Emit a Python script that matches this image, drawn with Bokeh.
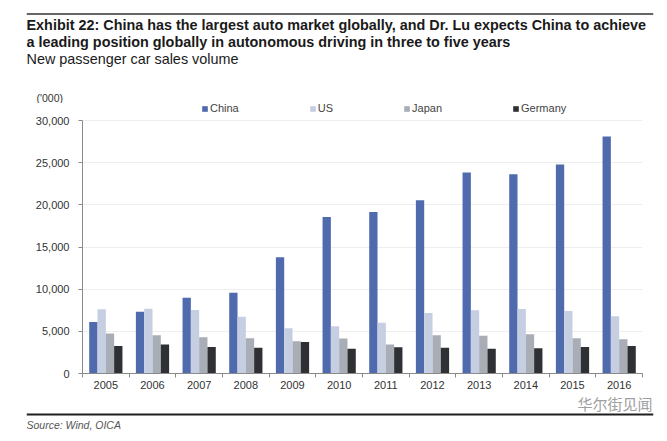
from bokeh.plotting import figure
from bokeh.models import (Range1d, FixedTicker, NumeralTickFormatter, Label, Plot, Span,
                          Legend, LegendItem, ColumnDataSource, LinearAxis, Grid)
from bokeh.layouts import column
from bokeh.transform import dodge
from bokeh.embed import file_html
from bokeh.resources import INLINE

years = ["2005", "2006", "2007", "2008", "2009", "2010", "2011", "2012", "2013", "2014", "2015", "2016"]
china = [6110, 7330, 8980, 9570, 13790, 18560, 19150, 20530, 23840, 23640, 24790, 28100]
us = [7610, 7680, 7530, 6740, 5370, 5600, 6030, 7180, 7490, 7650, 7410, 6780]
japan = [4730, 4540, 4300, 4180, 3830, 4140, 3430, 4540, 4490, 4660, 4180, 4070]
germany = [3270, 3430, 3150, 3040, 3750, 2920, 3120, 3040, 2920, 3000, 3150, 3270]
series_names = ["China", "US", "Japan", "Germany"]
series_colors = ["#4f6aad", "#c6cee2", "#a8adb6", "#2e3033"]
y_ticks = [0, 5000, 10000, 15000, 20000, 25000, 30000]
Y_MAX = 30000

FONT = "Liberation Sans"
W = 662
HEAD_TOP, HEAD_BOT = 0, 103      # header: page rows 0..103
MAIN_TOP, MAIN_BOT = 103, 394
FOOT_TOP, FOOT_BOT = 394, 438
FL, FR = 82, 642      # plot frame left/right (page px)
Y0, Y30 = 373, 120    # page rows of 0 and 30,000
RULE_L, RULE_R = 26, 653

HAS_FRAME_ALIGN = "frame_align" in Plot.properties()


def blank(top, bot):
    # frame spans the rule width; data coords == page pixel coords
    f = figure(width=W, height=bot - top, output_backend="svg", toolbar_location=None,
               x_range=Range1d(RULE_L, RULE_R), y_range=Range1d(bot, top),
               min_border_left=RULE_L, min_border_right=W - RULE_R,
               min_border_top=0, min_border_bottom=0, x_axis_type=None, y_axis_type=None)
    f.outline_line_color = None
    f.background_fill_color = "white"
    f.border_fill_color = "white"
    if HAS_FRAME_ALIGN:
        f.frame_align = False
    return f


def lab(fig, text, x, y, size, style="normal", color="#222222", font=FONT, align="left"):
    fig.add_layout(Label(x=x, y=y, text=text, text_font=font, text_font_size=size,
                         text_font_style=style, text_color=color, text_baseline="middle",
                         text_align=align, background_fill_color=None, border_line_color=None))


def hrule(fig, y, color):
    fig.add_layout(Span(location=y, dimension="width", line_color=color, line_width=2.2,
                        level="overlay"))


# ---------------- header ----------------
head = blank(HEAD_TOP, HEAD_BOT)
lab(head, "Exhibit 22: China has the largest auto market globally, and Dr. Lu expects China to achieve",
    26, 24, "14.4px", "bold", "#1a1a1a")
lab(head, "a leading position globally in autonomous driving in three to five years",
    26, 41, "14.4px", "bold", "#1a1a1a")
lab(head, "New passenger car sales volume", 26, 58, "14.4px", "normal", "#1a1a1a")
lab(head, "('000)", 36, 97, "10.5px", "normal", "#333333")
hrule(head, 13.5, "#666666")

# ---------------- main chart ----------------
px_per_unit = (Y0 - Y30) / Y_MAX
y_top_val = Y_MAX + (Y30 - MAIN_TOP) / px_per_unit

centers = [i + 0.5 for i in range(len(years))]
src = ColumnDataSource(dict(x=centers, China=china, US=us, Japan=japan, Germany=germany))

p = figure(width=W, height=MAIN_BOT - MAIN_TOP, output_backend="svg", toolbar_location=None,
           x_range=Range1d(0, len(years)), y_range=Range1d(0, y_top_val),
           min_border_left=FL, min_border_right=W - FR, min_border_top=0,
           min_border_bottom=MAIN_BOT - Y0, x_axis_type=None, y_axis_type=None)
p.outline_line_color = None
p.background_fill_color = "white"
p.border_fill_color = "white"
if HAS_FRAME_ALIGN:
    p.frame_align = False

bw = 0.178
offsets = [-1.5 * bw, -0.5 * bw, 0.5 * bw, 1.5 * bw]
renderers = []
for name, col, off in zip(series_names, series_colors, offsets):
    r = p.vbar(x=dodge("x", off, range=p.x_range), top=name, width=bw, bottom=0, source=src,
               fill_color=col, line_color=None)
    renderers.append(r)

yax = LinearAxis(ticker=FixedTicker(ticks=y_ticks, minor_ticks=[]),
                 formatter=NumeralTickFormatter(format="0,0"), bounds=(0, Y_MAX))
yax.axis_line_color = "#8a8a8a"
yax.major_tick_line_color = "#8a8a8a"
yax.major_tick_out = 4
yax.major_tick_in = 0
yax.major_label_standoff = 9
yax.major_label_text_font = FONT
yax.major_label_text_font_size = "11px"
yax.major_label_text_color = "#333333"
p.add_layout(yax, "left")

xax = LinearAxis(ticker=FixedTicker(ticks=centers, minor_ticks=list(range(len(years) + 1))),
                 major_label_overrides={c: y for c, y in zip(centers, years)})
xax.axis_line_color = "#8a8a8a"
xax.major_tick_out = 0
xax.major_tick_in = 0
xax.minor_tick_line_color = "#8a8a8a"
xax.minor_tick_out = 4
xax.minor_tick_in = 0
xax.major_label_standoff = 3
xax.major_label_text_font = FONT
xax.major_label_text_font_size = "11px"
xax.major_label_text_color = "#333333"
p.add_layout(xax, "below")

p.add_layout(Grid(dimension=1, ticker=yax.ticker, grid_line_color="#eeeeee", grid_line_width=1))

legend = Legend(items=[LegendItem(label=n, renderers=[r]) for n, r in zip(series_names, renderers)],
                orientation="horizontal", location=(201 - FL, Y0 - 114),
                glyph_width=7, glyph_height=7, label_standoff=2, label_width=0, label_height=12,
                spacing=70, padding=0, margin=0, border_line_color=None, background_fill_alpha=0,
                label_text_font=FONT, label_text_font_size="11px", label_text_color="#444444")
p.add_layout(legend, "center")

# ---------------- footer ----------------
foot = blank(FOOT_TOP, FOOT_BOT)
lab(foot, "华尔街见闻", 652, 403, "15px", "normal", "#a0a0a0", font="Noto Sans CJK SC", align="right")
lab(foot, "Source: Wind, OICA", 26, 424, "10.5px", "italic", "#555555")
hrule(foot, 414, "#1e1e1e")

layout = column(head, p, foot, spacing=0)
open("out.html", "w").write(file_html(layout, INLINE))
